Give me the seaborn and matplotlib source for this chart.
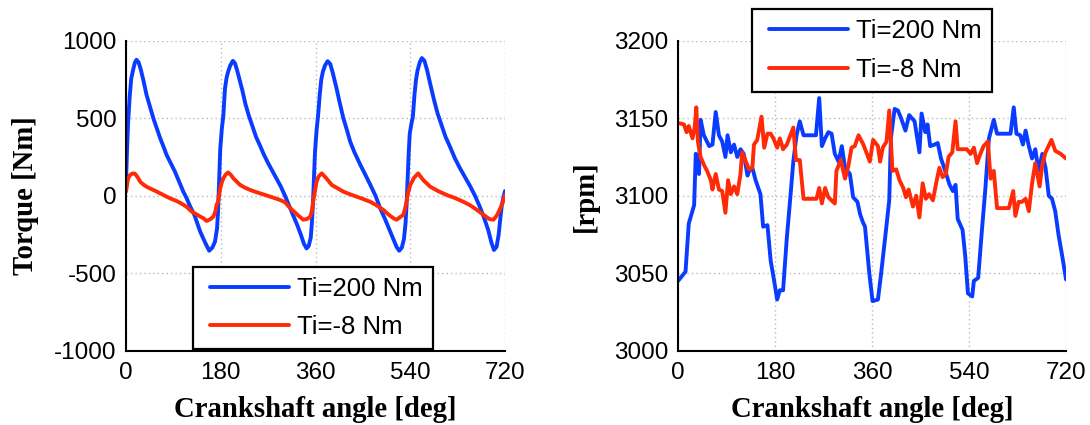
import matplotlib
matplotlib.use("Agg")
import matplotlib.pyplot as plt
from matplotlib.lines import Line2D
from matplotlib.legend_handler import HandlerLine2D
import seaborn as sns

# ---------------- Torque [Nm] vs crankshaft angle: (deg, Nm) ----------------
torque_hi = [
    (0, 90), (2, 300), (4, 470), (7, 640), (10, 757), (14, 820), (17, 860), (20, 877),
    (24, 860), (28, 815), (33, 745), (39, 651), (45, 580), (52, 499), (58, 440), (65, 370),
    (72, 310), (77, 264), (85, 210), (93, 155), (101, 90), (109, 25), (115, -15), (122, -70),
    (130, -125), (141, -232), (150, -300), (158, -355), (164, -335), (169, -297), (173, -210),
    (175, -90), (177, 100), (179, 300), (182, 430), (185, 520), (188, 690), (191, 760),
    (194, 800), (198, 840), (203, 870),
    (207, 855), (211, 810), (216, 745), (221, 680), (227, 590), (233, 520), (240, 450),
    (247, 380), (255, 320), (262, 265), (270, 210), (278, 160), (286, 110), (294, 60),
    (302, 0), (310, -65), (318, -130), (326, -195), (332, -250), (338, -310), (343, -340),
    (347, -325), (351, -270), (353, -180), (355, -60), (357, 110), (359, 280), (362, 420),
    (365, 520), (368, 650), (371, 750), (374, 800), (378, 840), (383, 868),
    (388, 850), (393, 790), (400, 692), (406, 600), (413, 499), (420, 420), (426, 348),
    (434, 280), (445, 200), (454, 140), (464, 71), (474, 0), (483, -82), (492, -150),
    (500, -215), (508, -280), (514, -330), (519, -355), (524, -335), (528, -280), (531, -180),
    (533, -60), (535, 100), (537, 270), (539, 400), (542, 460), (545, 510), (548, 650),
    (551, 750), (554, 810), (558, 860), (562, 888),
    (567, 870), (572, 810), (578, 720), (585, 620), (592, 530), (600, 450), (607, 380),
    (615, 320), (625, 240), (634, 180), (644, 120), (654, 60), (663, 0), (672, -70),
    (680, -140), (688, -220), (694, -300), (699, -350), (704, -330), (708, -250),
    (711, -150), (714, -60), (717, -10), (720, 30),
]

torque_lo = [
    (0, 25), (4, 112), (8, 135), (13, 144), (17, 142), (22, 120), (27, 90), (33, 72),
    (39, 58), (45, 48), (52, 37), (58, 27), (65, 15), (71, 5), (77, -6), (86, -20),
    (96, -34), (105, -50), (115, -71), (124, -100), (134, -120), (141, -135), (147, -145),
    (153, -163), (160, -152), (166, -135), (170, -100), (172, -60), (175, -39), (179, 47),
    (182, 85), (185, 112), (189, 135), (194, 150), (199, 135), (204, 112), (210, 92),
    (217, 69), (226, 52), (236, 37), (245, 26), (255, 15), (264, 5), (274, -6), (283, -16),
    (293, -28), (302, -42), (312, -80), (320, -105), (328, -130), (337, -155), (344, -150),
    (350, -135), (353, -100), (356, -30), (359, 30), (362, 90), (366, 125), (372, 144),
    (380, 115), (391, 69), (401, 50), (413, 26), (425, 10), (438, -6), (451, -22),
    (464, -39), (476, -62), (489, -92), (500, -125), (508, -145), (514, -155), (520, -140),
    (527, -123), (530, -85), (533, -39), (536, 20), (540, 69), (547, 115), (555, 144),
    (565, 100), (578, 58), (593, 30), (609, 5), (625, -15), (641, -39), (654, -62),
    (666, -90), (680, -125), (690, -150), (698, -155), (705, -125), (711, -82), (716, -40),
    (720, 5),
]

# ---------------- Engine speed [rpm] vs crankshaft angle: (deg, rpm) ----------------
speed_hi = [
    (0, 3045), (14, 3051), (20, 3082), (30, 3094), (33, 3127), (39, 3114), (42, 3149),
    (48, 3139), (58, 3132), (64, 3133), (70, 3154), (76, 3139), (82, 3135), (88, 3125),
    (92, 3139), (98, 3128), (104, 3133), (110, 3125), (116, 3130), (122, 3127), (129, 3113),
    (132, 3116), (138, 3118), (144, 3110), (153, 3101), (158, 3080), (166, 3081), (172, 3058),
    (178, 3046), (184, 3033), (189, 3039), (195, 3039), (202, 3073), (208, 3097), (214, 3122),
    (220, 3139), (226, 3148), (233, 3139), (256, 3139), (262, 3163), (267, 3132), (273, 3137),
    (279, 3141), (285, 3140), (291, 3127), (298, 3122), (304, 3132), (310, 3118), (319, 3114),
    (325, 3099), (333, 3096), (338, 3088), (343, 3083), (347, 3080), (355, 3050), (361, 3032),
    (371, 3033), (377, 3050), (386, 3078), (392, 3097), (395, 3137), (402, 3156), (408, 3155),
    (414, 3150), (422, 3142), (429, 3152), (439, 3148), (448, 3128), (452, 3153), (459, 3141),
    (463, 3146), (468, 3132), (476, 3133), (482, 3134), (488, 3124), (494, 3118), (504, 3107),
    (510, 3103), (515, 3107), (519, 3085), (528, 3078), (533, 3061), (538, 3037), (546, 3035),
    (549, 3045), (557, 3047), (564, 3078), (570, 3103), (577, 3137), (586, 3149), (592, 3140),
    (617, 3140), (623, 3157), (628, 3140), (635, 3139), (640, 3133), (645, 3142), (651, 3132),
    (657, 3124), (663, 3130), (669, 3116), (676, 3127), (682, 3118), (688, 3100), (694, 3098),
    (700, 3090), (706, 3075), (713, 3061), (720, 3046),
]

speed_lo = [
    (0, 3147), (11, 3146), (16, 3141), (20, 3145), (27, 3137), (31, 3144), (34, 3157),
    (37, 3135), (42, 3125), (48, 3120), (54, 3116), (61, 3110), (64, 3104), (70, 3114),
    (76, 3104), (82, 3103), (88, 3089), (93, 3110), (98, 3101), (104, 3106), (110, 3101),
    (116, 3114), (119, 3128), (126, 3122), (132, 3117), (138, 3118), (141, 3133), (147, 3136),
    (155, 3151), (160, 3131), (166, 3140), (172, 3140), (177, 3137), (184, 3131), (189, 3137),
    (195, 3130), (202, 3133), (214, 3144), (219, 3123), (226, 3123), (233, 3098), (257, 3098),
    (262, 3105), (267, 3095), (273, 3105), (279, 3099), (291, 3095), (294, 3116), (302, 3123),
    (310, 3111), (316, 3119), (322, 3131), (328, 3132), (335, 3139), (344, 3133), (356, 3122),
    (362, 3136), (371, 3132), (375, 3122), (380, 3131), (387, 3135), (392, 3155), (398, 3116),
    (405, 3117), (411, 3110), (418, 3105), (423, 3099), (428, 3104), (436, 3093), (442, 3100),
    (448, 3086), (454, 3108), (460, 3098), (466, 3101), (473, 3097), (479, 3108), (485, 3118),
    (491, 3112), (497, 3114), (502, 3125), (509, 3128), (515, 3148), (519, 3130), (525, 3130),
    (536, 3130), (543, 3127), (549, 3131), (555, 3121), (561, 3127), (567, 3132), (575, 3135),
    (580, 3111), (586, 3116), (592, 3092), (614, 3092), (622, 3103), (626, 3087), (632, 3096),
    (638, 3096), (645, 3098), (651, 3090), (657, 3108), (663, 3121), (671, 3106), (676, 3120),
    (682, 3128), (693, 3136), (700, 3129), (710, 3127), (720, 3124),
]

series_labels = ["Ti=200 Nm", "Ti=-8 Nm"]
angle_ticks = [0, 180, 360, 540, 720]
torque_ticks = [-1000, -500, 0, 500, 1000]
speed_ticks = [3000, 3050, 3100, 3150, 3200]

BLUE = "#0a3cff"
RED = "#ff2a06"
LW = 2.8

sns.set_theme(style="white")
plt.rcParams["font.family"] = ["Liberation Sans", "DejaVu Sans"]
plt.rcParams["axes.unicode_minus"] = False
plt.rcParams["text.color"] = "black"
plt.rcParams["axes.labelcolor"] = "black"

fig = plt.figure(figsize=(10.9, 4.25), dpi=100)
ax1 = fig.add_axes([0.1156, 0.1748, 0.3477, 0.7294])
ax2 = fig.add_axes([0.6220, 0.1748, 0.3560, 0.7294])

label_font = dict(family="Liberation Serif", weight="bold", size=20.7, color="black")


def unzip(pairs):
    return [p[0] for p in pairs], [p[1] for p in pairs]


def style_axes(ax, yticks, ylabel, ylabelpad):
    ax.set_xlim(0, 720)
    ax.set_ylim(yticks[0], yticks[-1])
    ax.set_xticks(angle_ticks)
    ax.set_yticks(yticks)
    ax.grid(True, color="#b8b8b8", linestyle=(0, (1, 2.2)), linewidth=1.0)
    ax.set_axisbelow(True)
    for side in ("top", "right"):
        ax.spines[side].set_visible(False)
    for side in ("left", "bottom"):
        ax.spines[side].set_color("black")
        ax.spines[side].set_linewidth(1.5)
    ax.tick_params(axis="both", length=0, labelsize=17.5, colors="black")
    ax.tick_params(axis="y", pad=7)
    ax.tick_params(axis="x", pad=8)
    ax.set_xlabel("Crankshaft angle [deg]", fontdict=label_font, labelpad=9)
    ax.set_ylabel(ylabel, fontdict=label_font, labelpad=ylabelpad)


def style_legend(ax, loc, anchor):
    # line samples are inset a little from the frame's left edge
    leg = ax.legend(loc=loc, bbox_to_anchor=anchor, borderaxespad=0, fontsize=18.5,
                    handlelength=3.33, handletextpad=0.31, labelspacing=0.55,
                    borderpad=0.4, fancybox=False, framealpha=1, edgecolor="black",
                    handler_map={Line2D: HandlerLine2D(xpad=0.26)})
    leg.get_frame().set_linewidth(1.6)
    for line in leg.get_lines():
        line.set_linewidth(LW)
    for txt in leg.get_texts():
        txt.set_color("black")


def draw(ax, pairs, color, label):
    x, y = unzip(pairs)
    sns.lineplot(x=x, y=y, ax=ax, color=color, linewidth=LW, label=label, sort=False)


# Torque panel
draw(ax1, torque_hi, BLUE, series_labels[0])
draw(ax1, torque_lo, RED, series_labels[1])
style_axes(ax1, torque_ticks, "Torque [Nm]", 11)
style_legend(ax1, "lower left", (0.177, 0.004))

# Speed panel
draw(ax2, speed_hi, BLUE, series_labels[0])
draw(ax2, speed_lo, RED, series_labels[1])
style_axes(ax2, speed_ticks, "[rpm]", 11)
style_legend(ax2, "upper left", (0.191, 1.102))

fig.savefig("out.png", dpi=100)
